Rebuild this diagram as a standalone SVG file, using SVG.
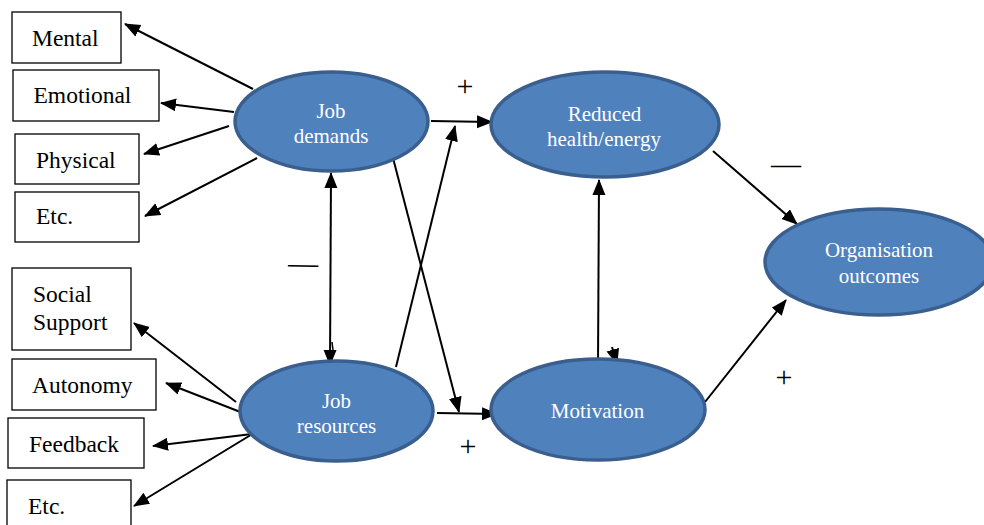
<svg xmlns="http://www.w3.org/2000/svg" width="984" height="525" viewBox="0 0 984 525">
  <style>
    .box rect { fill: #ffffff; stroke: #000000; stroke-width: 1.3; }
    .box text { font-size: 23.5px; fill: #000000; }
    .node ellipse { fill: #4f81bd; stroke: #3a5f8e; stroke-width: 3.5; }
    .node text { font-size: 21px; fill: #ffffff; text-anchor: middle; }
    .conn line { stroke: #000000; stroke-width: 2; fill: none; }
    .arrow { marker-end: url(#head); }
    .sign { font-size: 30px; fill: #000000; text-anchor: middle; }
  </style>
  <defs>
    <marker id="head" markerUnits="userSpaceOnUse" markerWidth="18" markerHeight="14" refX="15" refY="6.5" orient="auto-start-reverse">
      <path d="M0,0 L16,6.5 L0,13 z" fill="#000000"/>
    </marker>
  </defs>

  <rect width="984" height="525" fill="#ffffff"/>

  <!-- connectors -->
  <g id="connectors" class="conn">
    <!-- job demands to its facets -->
    <line class="arrow" x1="253" y1="89" x2="125" y2="24"/>
    <line class="arrow" x1="234" y1="112" x2="161" y2="103"/>
    <line class="arrow" x1="229" y1="126" x2="144" y2="154"/>
    <line class="arrow" x1="257" y1="158" x2="145" y2="216"/>
    <!-- job resources to its facets -->
    <line class="arrow" x1="236" y1="402" x2="134" y2="323"/>
    <line class="arrow" x1="243" y1="413" x2="166" y2="383"/>
    <line class="arrow" x1="252" y1="434" x2="153" y2="446"/>
    <line class="arrow" x1="254" y1="433" x2="134" y2="506"/>
    <!-- demands / resources into the two paths -->
    <line class="arrow" x1="431" y1="121" x2="492" y2="122"/>
    <line class="arrow" x1="396" y1="367" x2="455" y2="126"/>
    <line class="arrow" x1="393" y1="158" x2="459" y2="412"/>
    <line class="arrow" x1="437" y1="413" x2="497" y2="414"/>
    <!-- demands <-> resources -->
    <line x1="331" y1="173" x2="330" y2="365" marker-start="url(#head)" marker-end="url(#head)"/>
    <line x1="332" y1="342" x2="333" y2="350" style="stroke-width:1.5"/>
    <!-- motivation <-> reduced health -->
    <line class="arrow" x1="598" y1="366" x2="599" y2="180"/>
    <line class="arrow" x1="612" y1="347" x2="617" y2="364"/>
    <!-- outcomes -->
    <line class="arrow" x1="713" y1="151" x2="797" y2="224"/>
    <line class="arrow" x1="705" y1="402" x2="786" y2="300"/>
  </g>

  <g font-family="'Liberation Serif', 'DejaVu Serif', serif">
    <!-- sign labels -->
    <g id="signs">
      <text class="sign" x="465" y="96">+</text>
      <text class="sign" x="468" y="455.5">+</text>
      <text class="sign" x="784" y="386.5">+</text>
      <text class="sign" x="786" y="173.5" font-size="27">—</text>
      <text class="sign" x="303" y="273" font-size="28" transform="rotate(1 303 267)">—</text>
    </g>

    <!-- job demand facets -->
    <g id="box-mental" class="box"><rect x="12" y="12" width="109" height="51"/><text x="32" y="46">Mental</text></g>
    <g id="box-emotional" class="box"><rect x="13" y="70" width="146" height="51"/><text x="33.5" y="103">Emotional</text></g>
    <g id="box-physical" class="box"><rect x="15" y="134" width="124" height="50"/><text x="36" y="168">Physical</text></g>
    <g id="box-etc1" class="box"><rect x="15" y="192" width="124" height="50"/><text x="36" y="224">Etc.</text></g>

    <!-- job resource facets -->
    <g id="box-social" class="box"><rect x="12" y="268" width="119" height="82"/><text x="33" y="302">Social</text><text x="33" y="330">Support</text></g>
    <g id="box-autonomy" class="box"><rect x="12" y="359" width="144" height="51"/><text x="32" y="393">Autonomy</text></g>
    <g id="box-feedback" class="box"><rect x="8" y="418" width="136" height="50"/><text x="29" y="452">Feedback</text></g>
    <g id="box-etc2" class="box"><rect x="7" y="480" width="124" height="52"/><text x="28" y="514">Etc.</text></g>

    <!-- main constructs -->
    <g id="node-demands" class="node">
      <ellipse cx="331.5" cy="121.5" rx="96.5" ry="49.5"/>
      <text x="331" y="118">Job</text>
      <text x="331" y="143">demands</text>
    </g>
    <g id="node-resources" class="node">
      <ellipse cx="336.5" cy="411" rx="96.5" ry="50"/>
      <text x="336.5" y="408">Job</text>
      <text x="336.5" y="433">resources</text>
    </g>
    <g id="node-health" class="node">
      <ellipse cx="605" cy="124.5" rx="114" ry="52.5"/>
      <text x="604.5" y="121">Reduced</text>
      <text x="604" y="146">health/energy</text>
    </g>
    <g id="node-motivation" class="node">
      <ellipse cx="598" cy="409.5" rx="107" ry="50.5"/>
      <text x="597.5" y="418">Motivation</text>
    </g>
    <g id="node-outcomes" class="node">
      <ellipse cx="879" cy="262" rx="114" ry="53"/>
      <text x="879" y="257">Organisation</text>
      <text x="879" y="283">outcomes</text>
    </g>
  </g>
</svg>
